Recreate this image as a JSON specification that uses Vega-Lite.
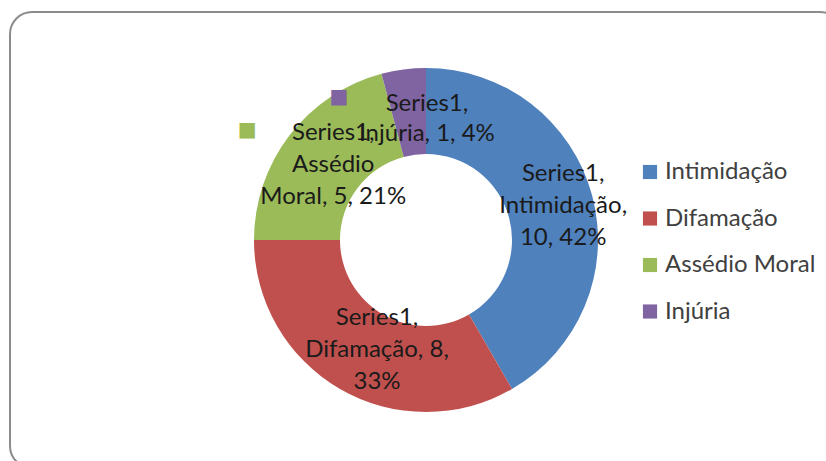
{
  "$schema": "https://vega.github.io/schema/vega-lite/v6.json",
  "width": 832,
  "height": 456,
  "autosize": {"type": "none"},
  "padding": {"left": 10, "top": 12, "right": 0, "bottom": 0},
  "background": "white",
  "view": {"stroke": "#8c8c8c", "strokeWidth": 2, "cornerRadius": 22, "fill": "white"},
  "config": {
    "view": {"stroke": "#8c8c8c", "strokeWidth": 2, "cornerRadius": 22},
    "font": "Lato"
  },
  "data": {
    "values": [
      {"cat": "Intimidação", "value": 10, "label": "Series1,\nIntimidação,\n10, 42%"},
      {"cat": "Difamação", "value": 8, "label": "Series1,\nDifamação, 8,\n33%"},
      {"cat": "Assédio Moral", "value": 5, "label": "Series1,\nAssédio\nMoral, 5, 21%"},
      {"cat": "Injúria", "value": 1, "label": "Series1,\nInjúria, 1, 4%"}
    ]
  },
  "encoding": {
    "theta": {"field": "value", "type": "quantitative", "stack": true},
    "order": {"field": "value", "type": "quantitative", "sort": "descending"}
  },
  "layer": [
    {
      "mark": {"type": "arc", "innerRadius": 86, "outerRadius": 172},
      "encoding": {
        "color": {
          "field": "cat",
          "type": "nominal",
          "scale": {
            "domain": ["Intimidação", "Difamação", "Assédio Moral", "Injúria"],
            "range": ["#4F81BD", "#C0504D", "#9BBB59", "#8064A2"]
          },
          "legend": {
            "orient": "none",
            "legendX": 628,
            "legendY": 148,
            "title": null,
            "symbolType": "square",
            "symbolSize": 200,
            "symbolStrokeWidth": 0,
            "labelFontSize": 24,
            "labelColor": "#404040",
            "labelLimit": 300,
            "labelOffset": 3,
            "rowPadding": 22.5
          }
        }
      }
    },
    {
      "mark": {"type": "text", "radius": 142, "dy": -29, "fontSize": 24, "lineHeight": 32, "lineBreak": "\n", "fill": "#1a1a1a"},
      "encoding": {
        "text": {"condition": {"test": "datum.cat === 'Intimidação'", "field": "label", "type": "nominal"}, "value": ""}
      }
    },
    {
      "mark": {"type": "text", "radius": 122, "dx": 12, "dy": -28, "fontSize": 24, "lineHeight": 32, "lineBreak": "\n", "fill": "#1a1a1a"},
      "encoding": {
        "text": {"condition": {"test": "datum.cat === 'Difamação'", "field": "label", "type": "nominal"}, "value": ""}
      }
    },
    {
      "mark": {"type": "text", "radius": 122, "dx": 4, "dy": -33, "fontSize": 24, "lineHeight": 32, "lineBreak": "\n", "fill": "#1a1a1a"},
      "encoding": {
        "text": {"condition": {"test": "datum.cat === 'Assédio Moral'", "field": "label", "type": "nominal"}, "value": ""}
      }
    },
    {
      "mark": {"type": "text", "radius": 123, "dx": 17, "dy": -14, "fontSize": 24, "lineHeight": 30, "lineBreak": "\n", "fill": "#1a1a1a"},
      "encoding": {
        "text": {"condition": {"test": "datum.cat === 'Injúria'", "field": "label", "type": "nominal"}, "value": ""}
      }
    },
    {
      "mark": {"type": "text", "radius": 123, "dx": -71, "dy": -21, "font": "DejaVu Sans", "fontSize": 20, "fill": "#8064A2"},
      "encoding": {
        "text": {"condition": {"test": "datum.cat === 'Injúria'", "value": "■"}, "value": ""}
      }
    },
    {
      "mark": {"type": "text", "radius": 122, "dx": -82, "dy": -36, "font": "DejaVu Sans", "fontSize": 20, "fill": "#9BBB59"},
      "encoding": {
        "text": {"condition": {"test": "datum.cat === 'Assédio Moral'", "value": "■"}, "value": ""}
      }
    }
  ]
}
